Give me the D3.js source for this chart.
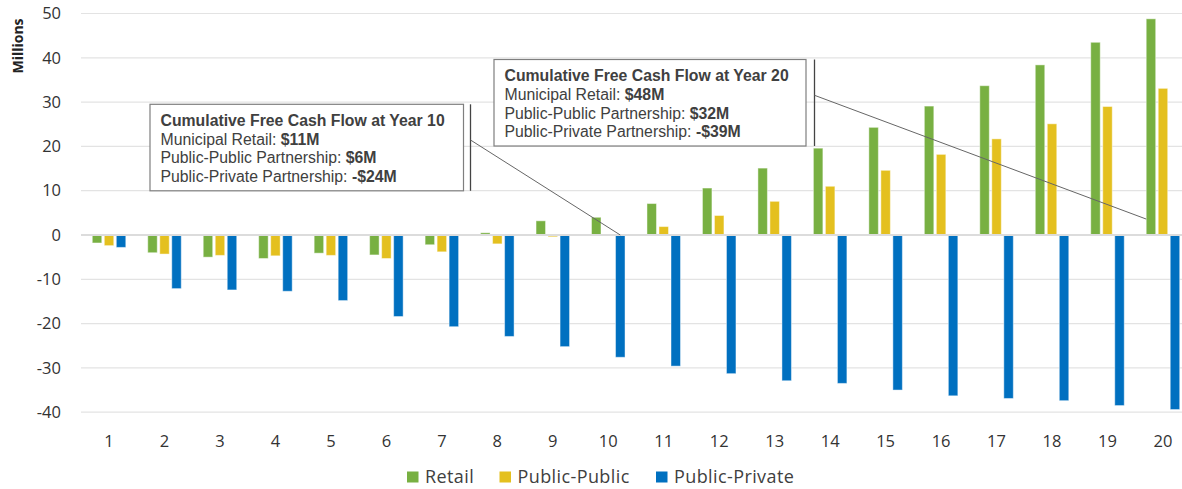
<!DOCTYPE html>
<html>
<head>
<meta charset="utf-8">
<script src="https://cdn.jsdelivr.net/npm/d3@7/dist/d3.min.js"></script>
<style>
  html, body { margin: 0; padding: 0; background: #fff; }
  svg { display: block; }
</style>
</head>
<body>
<svg id="chart" width="1182" height="489"></svg>
<script>
const years = ["1","2","3","4","5","6","7","8","9","10","11","12","13","14","15","16","17","18","19","20"];
const seriesNames = ["Retail", "Public-Public", "Public-Private"];
const retail = [-1.8,-4.0,-5.0,-5.3,-4.1,-4.5,-2.2,0.5,3.2,4.0,7.1,10.6,15.1,19.6,24.3,29.1,33.7,38.4,43.5,48.8];
const publicPublic = [-2.4,-4.3,-4.6,-4.7,-4.6,-5.3,-3.8,-2.0,-0.4,0,1.9,4.4,7.6,11.0,14.6,18.2,21.7,25.1,29.0,33.1];
const publicPrivate = [-2.8,-12.1,-12.4,-12.7,-14.8,-18.4,-20.7,-22.9,-25.2,-27.6,-29.6,-31.3,-32.9,-33.5,-35.0,-36.3,-36.9,-37.4,-38.5,-39.4];
const yTicks = [50,40,30,20,10,0,-10,-20,-30,-40];
const colors = ["#78B042", "#E4C01F", "#0070C0"];

const annotations = [
  { year: "10", title: "Cumulative Free Cash Flow at Year 10",
    lines: [["Municipal Retail: ", "$11M"], ["Public-Public Partnership: ", "$6M"], ["Public-Private Partnership: ", "-$24M"]] },
  { year: "20", title: "Cumulative Free Cash Flow at Year 20",
    lines: [["Municipal Retail: ", "$48M"], ["Public-Public Partnership: ", "$32M"], ["Public-Private Partnership: ", "-$39M"]] }
];

const svg = d3.select("#chart");
const W = 1182;
const plotLeft = 81.3, plotRight = 1190.7;

const x0 = d3.scaleBand().domain(years).range([plotLeft, plotRight]).paddingInner(0.396).paddingOuter(0.198);
const x1 = d3.scaleBand().domain(seriesNames).range([0, x0.bandwidth()]).paddingInner(0.21);
const y = d3.scaleLinear().domain([-40, 50]).range([412.2, 13.5]);

// gridlines
svg.append("g").selectAll("line").data(yTicks.filter(d => d !== 0)).join("line")
  .attr("x1", 81).attr("x2", W).attr("y1", d => y(d)).attr("y2", d => y(d))
  .attr("stroke", "#e3e3e3").attr("stroke-width", 1.2);

// y labels
svg.append("g").selectAll("text").data(yTicks).join("text")
  .attr("x", 61).attr("y", d => y(d)).attr("dy", "0.35em")
  .attr("text-anchor", "end")
  .attr("font-family", "'Open Sans', 'Noto Sans', sans-serif").attr("font-size", 16.5)
  .attr("fill", "#333").text(d => d);

// y title
svg.append("text").attr("transform", `translate(23,46) rotate(-90)`)
  .attr("text-anchor", "middle")
  .attr("font-family", "'Open Sans', 'Noto Sans', sans-serif").attr("font-size", 14)
  .attr("font-weight", "bold").attr("fill", "#222").text("Millions");

// bars
const data = years.map((yr, i) => ({ yr, vals: [retail[i], publicPublic[i], publicPrivate[i]] }));
const groups = svg.append("g").selectAll("g").data(data).join("g")
  .attr("transform", d => `translate(${x0(d.yr)},0)`);
groups.selectAll("rect").data(d => d.vals.map((v, k) => ({ v, k }))).join("rect")
  .attr("x", d => x1(seriesNames[d.k]))
  .attr("width", x1.bandwidth())
  .attr("y", d => Math.min(y(d.v), y(0)))
  .attr("height", d => Math.abs(y(d.v) - y(0)))
  .attr("fill", d => colors[d.k])
  .attr("stroke", "rgba(255,255,255,0.45)").attr("stroke-width", 1);

// zero line
svg.append("line").attr("x1", 81).attr("x2", W).attr("y1", y(0)).attr("y2", y(0))
  .attr("stroke", "#dcdcdc").attr("stroke-width", 2);

// x labels
svg.append("g").selectAll("text").data(years).join("text")
  .attr("x", d => x0(d) + x0.bandwidth() / 2).attr("y", 441).attr("dy", "0.35em")
  .attr("text-anchor", "middle")
  .attr("font-family", "'Open Sans', 'Noto Sans', sans-serif").attr("font-size", 16.5)
  .attr("fill", "#333").text(d => d);

// annotations
const boxes = [
  { x: 150, y: 104.3, w: 313.5, h: 86.5, vx: 470.5, anchorY: 140,
    targetX: x0("10") + x1("Public-Private") + x1.bandwidth() / 2, targetY: y(0) },
  { x: 494, y: 59.5, w: 312, h: 86.5, vx: 814.5, anchorY: 95.3,
    targetX: x0("20") + x1("Retail"), targetY: y(3.6) }
];
annotations.forEach((a, i) => {
  const b = boxes[i];
  const g = svg.append("g");
  g.append("rect").attr("x", b.x).attr("y", b.y).attr("width", b.w).attr("height", b.h)
    .attr("fill", "#fff").attr("stroke", "#7f7f7f").attr("stroke-width", 1.2);
  g.append("line").attr("x1", b.vx).attr("x2", b.vx).attr("y1", b.y).attr("y2", b.y + b.h)
    .attr("stroke", "#444").attr("stroke-width", 1.3);
  g.append("line").attr("x1", b.vx).attr("y1", b.anchorY).attr("x2", b.targetX).attr("y2", b.targetY)
    .attr("stroke", "#666").attr("stroke-width", 1);
  const tx = b.x + 10.5;
  g.append("text").attr("x", tx).attr("y", b.y + 15.8).attr("dy", "0.35em")
    .attr("font-family", "'Liberation Sans', Arial, sans-serif").attr("font-size", 15.8)
    .attr("font-weight", "bold").attr("fill", "#404040").text(a.title);
  a.lines.forEach((ln, j) => {
    const t = g.append("text").attr("x", tx).attr("y", b.y + 34.8 + j * 18.8).attr("dy", "0.35em")
      .attr("font-family", "'Liberation Sans', Arial, sans-serif").attr("font-size", 15.8)
      .attr("fill", "#404040");
    t.append("tspan").text(ln[0]);
    t.append("tspan").attr("font-weight", "bold").text(ln[1]);
  });
});

// legend
const legendX = [407, 499.5, 656];
const lg = svg.append("g");
seriesNames.forEach((s, k) => {
  lg.append("rect").attr("x", legendX[k]).attr("y", 471.5).attr("width", 11.5).attr("height", 11)
    .attr("fill", colors[k]);
  lg.append("text").attr("x", legendX[k] + 18).attr("y", 477).attr("dy", "0.35em")
    .attr("font-family", "'Open Sans', 'Noto Sans', sans-serif").attr("font-size", 18)
    .attr("letter-spacing", 0.4)
    .attr("fill", "#404040").text(s);
});
</script>
</body>
</html>
